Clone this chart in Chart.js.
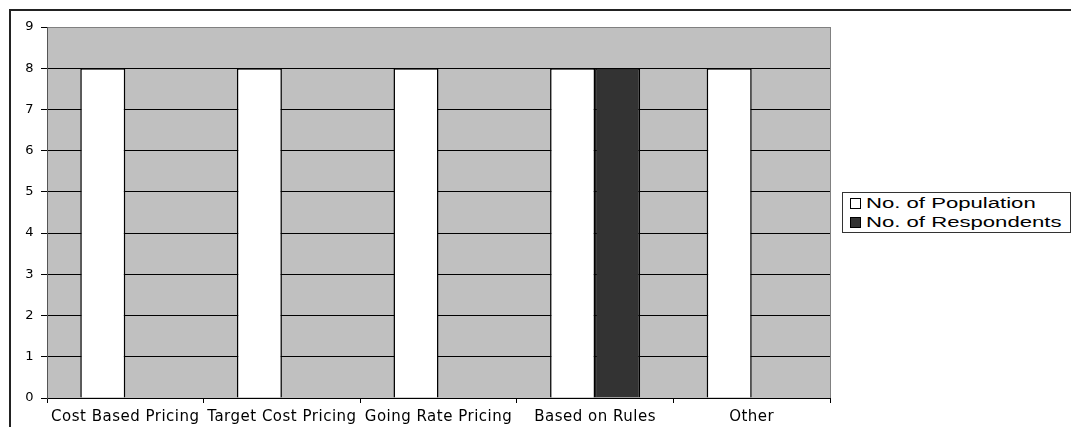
<!DOCTYPE html>
<html>
<head>
<meta charset="utf-8">
<script src="https://cdn.jsdelivr.net/npm/chart.js@4/dist/chart.umd.min.js"></script>
<style>
  html, body { margin: 0; padding: 0; background: #fff; }
  #wrap { position: relative; width: 1071px; height: 427px; overflow: hidden; }
  #frame { position: absolute; left: 9px; top: 9px; width: 1200px; height: 600px;
           border-left: 2px solid #222; border-top: 2px solid #222; box-sizing: border-box; }
  #chart { position: absolute; left: 0; top: 0; }
  #legend { position: absolute; left: 842px; top: 192px; width: 229px; height: 41px;
            border: 1px solid #333; box-sizing: border-box; background: #fff;
            font-family: "Liberation Sans", Arial, sans-serif; font-size: 14px; color: #000; }
  #legend div { position: absolute; left: 7px; height: 19px; line-height: 19px; white-space: nowrap; }
  #legend span.sw { display: inline-block; width: 9px; height: 9px; border: 1px solid #000;
                    margin-right: 5px; vertical-align: -1px; }
  #legend span.tx { display: inline-block; transform: scaleX(1.58); transform-origin: 0 50%; }
</style>
</head>
<body>
<div id="wrap">
  <div id="frame"></div>
  <canvas id="chart" width="1071" height="427"></canvas>
  <div id="legend"></div>
</div>
<script>
const categories = ["Cost Based Pricing", "Target Cost Pricing", "Going Rate Pricing", "Based on Rules", "Other"];
const population = [8, 8, 8, 8, 8];
const respondents = [0, 0, 0, 8, 0];
const yTicks = [0, 1, 2, 3, 4, 5, 6, 7, 8, 9];
const seriesNames = ["No. of Population", "No. of Respondents"];
const seriesColors = ["#ffffff", "#333333"];

// grey plot background with a thin frame, plus slightly spaced axis lettering
const plotBackground = {
  id: 'plotBackground',
  beforeDraw(chart) {
    const a = chart.chartArea, ctx = chart.ctx;
    ctx.save();
    ctx.fillStyle = '#c0c0c0';
    ctx.fillRect(a.left, a.top, a.right - a.left, a.bottom - a.top);
    ctx.strokeStyle = '#808080';
    ctx.lineWidth = 1;
    ctx.strokeRect(Math.round(a.left) + 0.5, Math.round(a.top) + 0.5,
                   Math.round(a.right - a.left), Math.round(a.bottom - a.top));
    ctx.restore();
    if ('letterSpacing' in ctx) ctx.letterSpacing = '0.5px';
  },
  afterDraw(chart) {
    if ('letterSpacing' in chart.ctx) chart.ctx.letterSpacing = '0px';
  }
};

const fontFamily = '"DejaVu Sans", "Liberation Sans", Arial, sans-serif';

new Chart(document.getElementById('chart'), {
  type: 'bar',
  data: {
    labels: categories,
    datasets: [
      { label: seriesNames[0], data: population, backgroundColor: seriesColors[0],
        borderColor: '#000', borderWidth: 1.5, borderSkipped: 'start' },
      { label: seriesNames[1], data: respondents, backgroundColor: seriesColors[1],
        borderColor: '#000', borderWidth: 1.5, borderSkipped: 'start' }
    ]
  },
  options: {
    responsive: false,
    animation: false,
    events: [],
    layout: { padding: { left: 10, top: 27, right: 241, bottom: 0 } },
    datasets: { bar: { categoryPercentage: 0.575, barPercentage: 1.0 } },
    plugins: { legend: { display: false }, tooltip: { enabled: false } },
    scales: {
      x: {
        offset: true,
        grid: { offset: true, drawOnChartArea: false, drawTicks: true, tickLength: 5, color: '#000' },
        border: { color: '#000', width: 1 },
        ticks: { color: '#000', font: { family: fontFamily, size: 15 }, padding: 5,
                 maxRotation: 0, autoSkip: false },
        afterFit(s) { s.height = 29; }
      },
      y: {
        min: 0, max: 9,
        afterBuildTicks(s) { s.ticks = yTicks.map(v => ({ value: v })); },
        grid: {
          color: ctx => (ctx.tick && ctx.tick.value === 9) ? '#808080' : '#000',
          tickColor: '#000', tickLength: 6, lineWidth: 1
        },
        border: { color: '#555', width: 1 },
        ticks: { color: '#000', font: { family: fontFamily, size: 13 }, padding: 7 },
        afterFit(s) { s.width = 37; }
      }
    }
  },
  plugins: [plotBackground]
});

// legend box
const legend = document.getElementById('legend');
seriesNames.forEach((name, i) => {
  const row = document.createElement('div');
  row.style.top = (i === 0 ? 1 : 20) + 'px';
  const sw = document.createElement('span');
  sw.className = 'sw';
  sw.style.background = seriesColors[i];
  const tx = document.createElement('span');
  tx.className = 'tx';
  tx.textContent = name;
  row.appendChild(sw);
  row.appendChild(tx);
  legend.appendChild(row);
});
</script>
</body>
</html>
